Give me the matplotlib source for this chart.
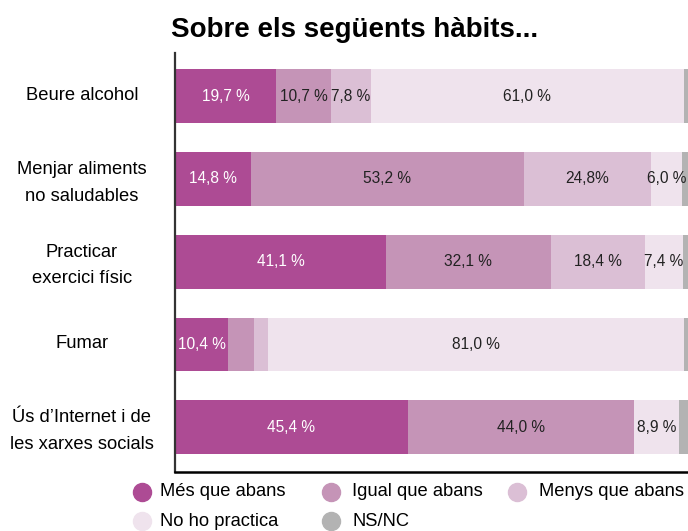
import matplotlib.pyplot as plt
import matplotlib.transforms as mtransforms
from matplotlib.lines import Line2D
import numpy as np

plt.rcParams['font.family'] = ['Liberation Sans', 'DejaVu Sans']

habits = ['Beure alcohol', 'Menjar aliments\nno saludables', 'Practicar\nexercici físic',
          'Fumar', 'Ús d\u2019Internet i de\nles xarxes socials']
series = ['Més que abans', 'Igual que abans', 'Menys que abans', 'No ho practica', 'NS/NC']
mes = [19.7, 14.8, 41.1, 10.4, 45.4]
igual = [10.7, 53.2, 32.1, 5.0, 44.0]
menys = [7.8, 24.8, 18.4, 2.8, 0.0]
no_practica = [61.0, 6.0, 7.4, 81.0, 8.9]
nsnc = [0.8, 1.2, 1.0, 0.8, 1.7]
# text shown on each segment (None = no label)
labels = [
    ['19,7 %', '14,8 %', '41,1 %', '10,4 %', '45,4 %'],
    ['10,7 %', '53,2 %', '32,1 %', None, '44,0 %'],
    ['7,8 %', '24,8%', '18,4 %', None, None],
    ['61,0 %', '6,0 %', '7,4 %', '81,0 %', '8,9 %'],
    [None, None, None, None, None],
]

colors = ['#ad4b94', '#c594b7', '#dbbfd5', '#efe3ed', '#b3b3b3']
text_colors = ['white', '#222222', '#222222', '#222222', '#222222']

W, H = 688, 531
fig = plt.figure(figsize=(W/100, H/100), dpi=100)
ax = fig.add_axes([175/W, 59/H, 513/W, 419/H])

y = np.arange(len(habits))
left = np.zeros(len(habits))
for vals, col, tcol, labs in zip([mes, igual, menys, no_practica, nsnc], colors, text_colors, labels):
    vals = np.array(vals)
    ax.barh(y, vals, left=left, height=0.65, color=col, linewidth=0)
    for i, lab in enumerate(labs):
        if lab:
            ax.text(left[i] + vals[i]/2, y[i], lab, ha='center', va='center',
                    fontsize=11.2, color=tcol)
    left += vals

ax.set_xlim(0, 100)
ax.set_ylim(4.54, -0.52)
ax.set_xticks([])
ax.set_yticks(y)
ax.set_yticklabels(habits, ha='center', fontsize=13.2, linespacing=1.75)
ax.tick_params(axis='y', length=0, pad=67)
# nudge the category names up a little
lift = mtransforms.ScaledTranslation(0, 0.03, fig.dpi_scale_trans)
for t in ax.get_yticklabels():
    t.set_transform(t.get_transform() + lift)
for s in ['top', 'right']:
    ax.spines[s].set_visible(False)
ax.spines['left'].set_linewidth(1.6)
ax.spines['left'].set_color('#333333')
ax.spines['bottom'].set_linewidth(1.8)
ax.spines['bottom'].set_color('black')

fig.text(355/W, 1 - 30/H, 'Sobre els següents hàbits...', ha='center', va='center',
         fontsize=20, fontweight='bold')

# legend laid out by hand: two rows, three columns
marker_x = [142, 331, 517, 142, 331]
text_x = [160, 352, 539, 160, 352]
row_y = [492, 492, 492, 521, 521]
for name, col, mx, tx, ry in zip(series, colors, marker_x, text_x, row_y):
    fig.add_artist(Line2D([mx/W], [1 - ry/H], marker='o', linestyle='', markersize=13,
                          color=col, transform=fig.transFigure))
    fig.text(tx/W, 1 - ry/H, name, ha='left', va='center', fontsize=13.2)

fig.savefig('out.png', dpi=100)
